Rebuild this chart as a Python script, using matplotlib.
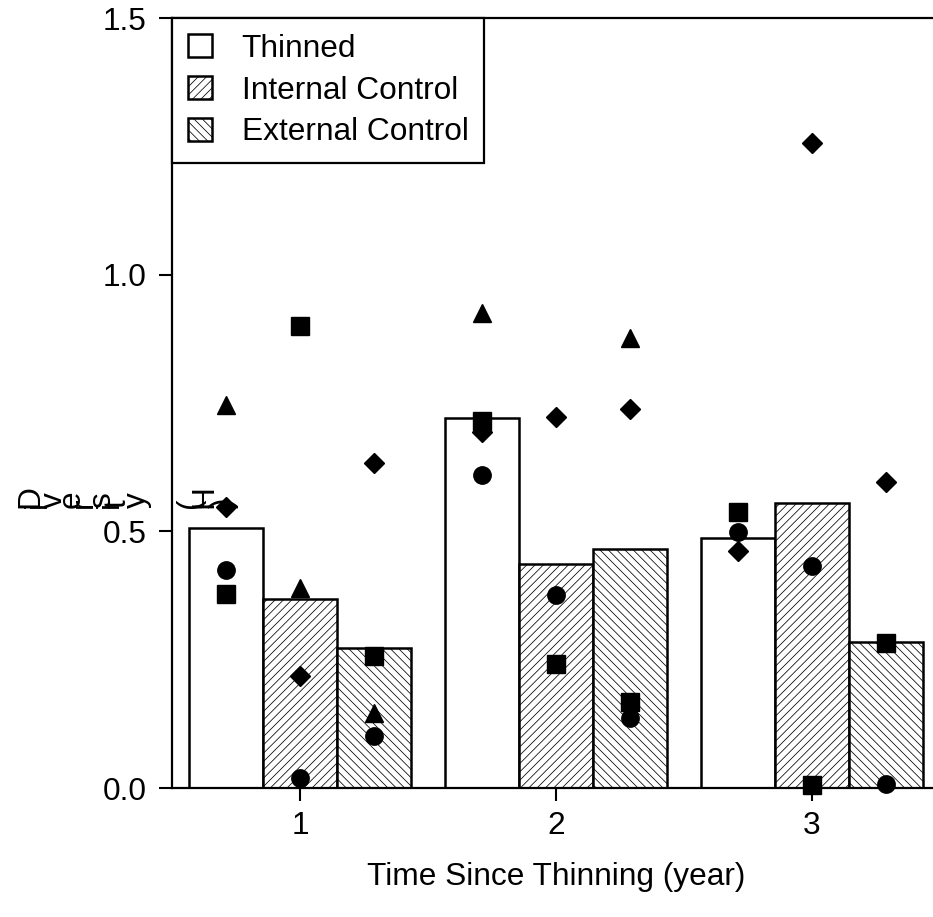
import numpy as np
import matplotlib
matplotlib.use("Agg")
import matplotlib.pyplot as plt
from matplotlib.patches import Patch

plt.rcParams['font.family'] = ['Liberation Sans', 'DejaVu Sans']
plt.rcParams['hatch.linewidth'] = 0.55

nan = np.nan
years = [1, 2, 3]
tick_labels_x = ["1", "2", "3"]
series_names = ["Thinned", "Internal Control", "External Control"]

thinned_mean = [0.507, 0.721, 0.487]
internal_mean = [0.368, 0.436, 0.555]
external_mean = [0.273, 0.466, 0.285]

thinned_circle = [0.425, 0.610, 0.498]
thinned_square = [0.377, 0.714, 0.538]
thinned_triangle = [0.746, 0.926, nan]
thinned_diamond = [0.547, 0.694, 0.462]

internal_circle = [0.019, 0.376, 0.433]
internal_square = [0.900, 0.241, 0.006]
internal_triangle = [0.389, nan, nan]
internal_diamond = [0.219, 0.722, 1.257]

external_circle = [0.101, 0.136, 0.008]
external_square = [0.257, 0.168, 0.283]
external_triangle = [0.147, 0.876, nan]
external_diamond = [0.633, 0.738, 0.597]

yticks = [0.0, 0.5, 1.0, 1.5]
ytick_labels = ["0.0", "0.5", "1.0", "1.5"]

W, H = 933, 917
fig = plt.figure(figsize=(W / 100, H / 100), dpi=100)
ax_left, ax_right, ax_top, ax_bot = 172, 940, 18, 788
ax = fig.add_axes([ax_left / W, 1 - ax_bot / H, (ax_right - ax_left) / W, (ax_bot - ax_top) / H])

fs = 22.8
bw = 0.288
x = np.array(years, dtype=float)
offsets = [-bw, 0.0, bw]
means = [thinned_mean, internal_mean, external_mean]
hatches = [None, '////', '\\\\\\\\']
points = [
    (thinned_circle, thinned_square, thinned_triangle, thinned_diamond),
    (internal_circle, internal_square, internal_triangle, internal_diamond),
    (external_circle, external_square, external_triangle, external_diamond),
]
mk = [('o', 12.5), ('s', 13.0), ('^', 13.0), ('D', 9.8)]

for i in range(3):
    ax.bar(x + offsets[i], means[i], width=bw, color='white', edgecolor='black',
           linewidth=1.8, hatch=hatches[i], zorder=2)
for i in range(3):
    for vals, (m, s) in zip(points[i], mk):
        ax.plot(x + offsets[i], vals, linestyle='none', marker=m, markersize=s,
                color='black', clip_on=False, zorder=5)

ax.set_xlim(0.5, 3.5)
ax.set_ylim(0, 1.5)
ax.set_xticks(years)
ax.set_xticklabels(tick_labels_x, fontsize=fs)
ax.set_yticks(yticks)
ax.set_yticklabels(ytick_labels, fontsize=fs)
ax.tick_params(axis='both', direction='out', length=9.5, width=1.5, color='black')
ax.tick_params(axis='y', pad=9)
ax.tick_params(axis='x', pad=7)
for sp in ax.spines.values():
    sp.set_linewidth(1.6)
    sp.set_color('black')

ax.set_xlabel("Time Since Thinning (year)", fontsize=fs, labelpad=15.5)

handles = [Patch(facecolor='white', edgecolor='black', linewidth=1.8, hatch=h) for h in hatches]
leg = ax.legend(handles, series_names, loc='upper left', bbox_to_anchor=(0, 1),
                borderaxespad=0, fontsize=fs, frameon=True, fancybox=False,
                edgecolor='black', framealpha=1, handlelength=0.75, handleheight=0.75,
                handletextpad=0.95, labelspacing=0.37, borderpad=0.5)
leg.get_frame().set_linewidth(1.6)

# garbled y-axis label as in the reference (each glyph rotated)
label_chars = list("Diversity (H')")
char_base_px = [38, 46, 62, 80, 92, 110, 118, 125, 145, 160, 198, 212, 216, 232]
base_y = 508
for ch, bx in zip(label_chars, char_base_px):
    fig.text(bx / W, 1 - base_y / H, ch, fontsize=fs, rotation=90,
             rotation_mode='anchor', ha='left', va='baseline', zorder=10)

fig.savefig("out.png", dpi=100)
